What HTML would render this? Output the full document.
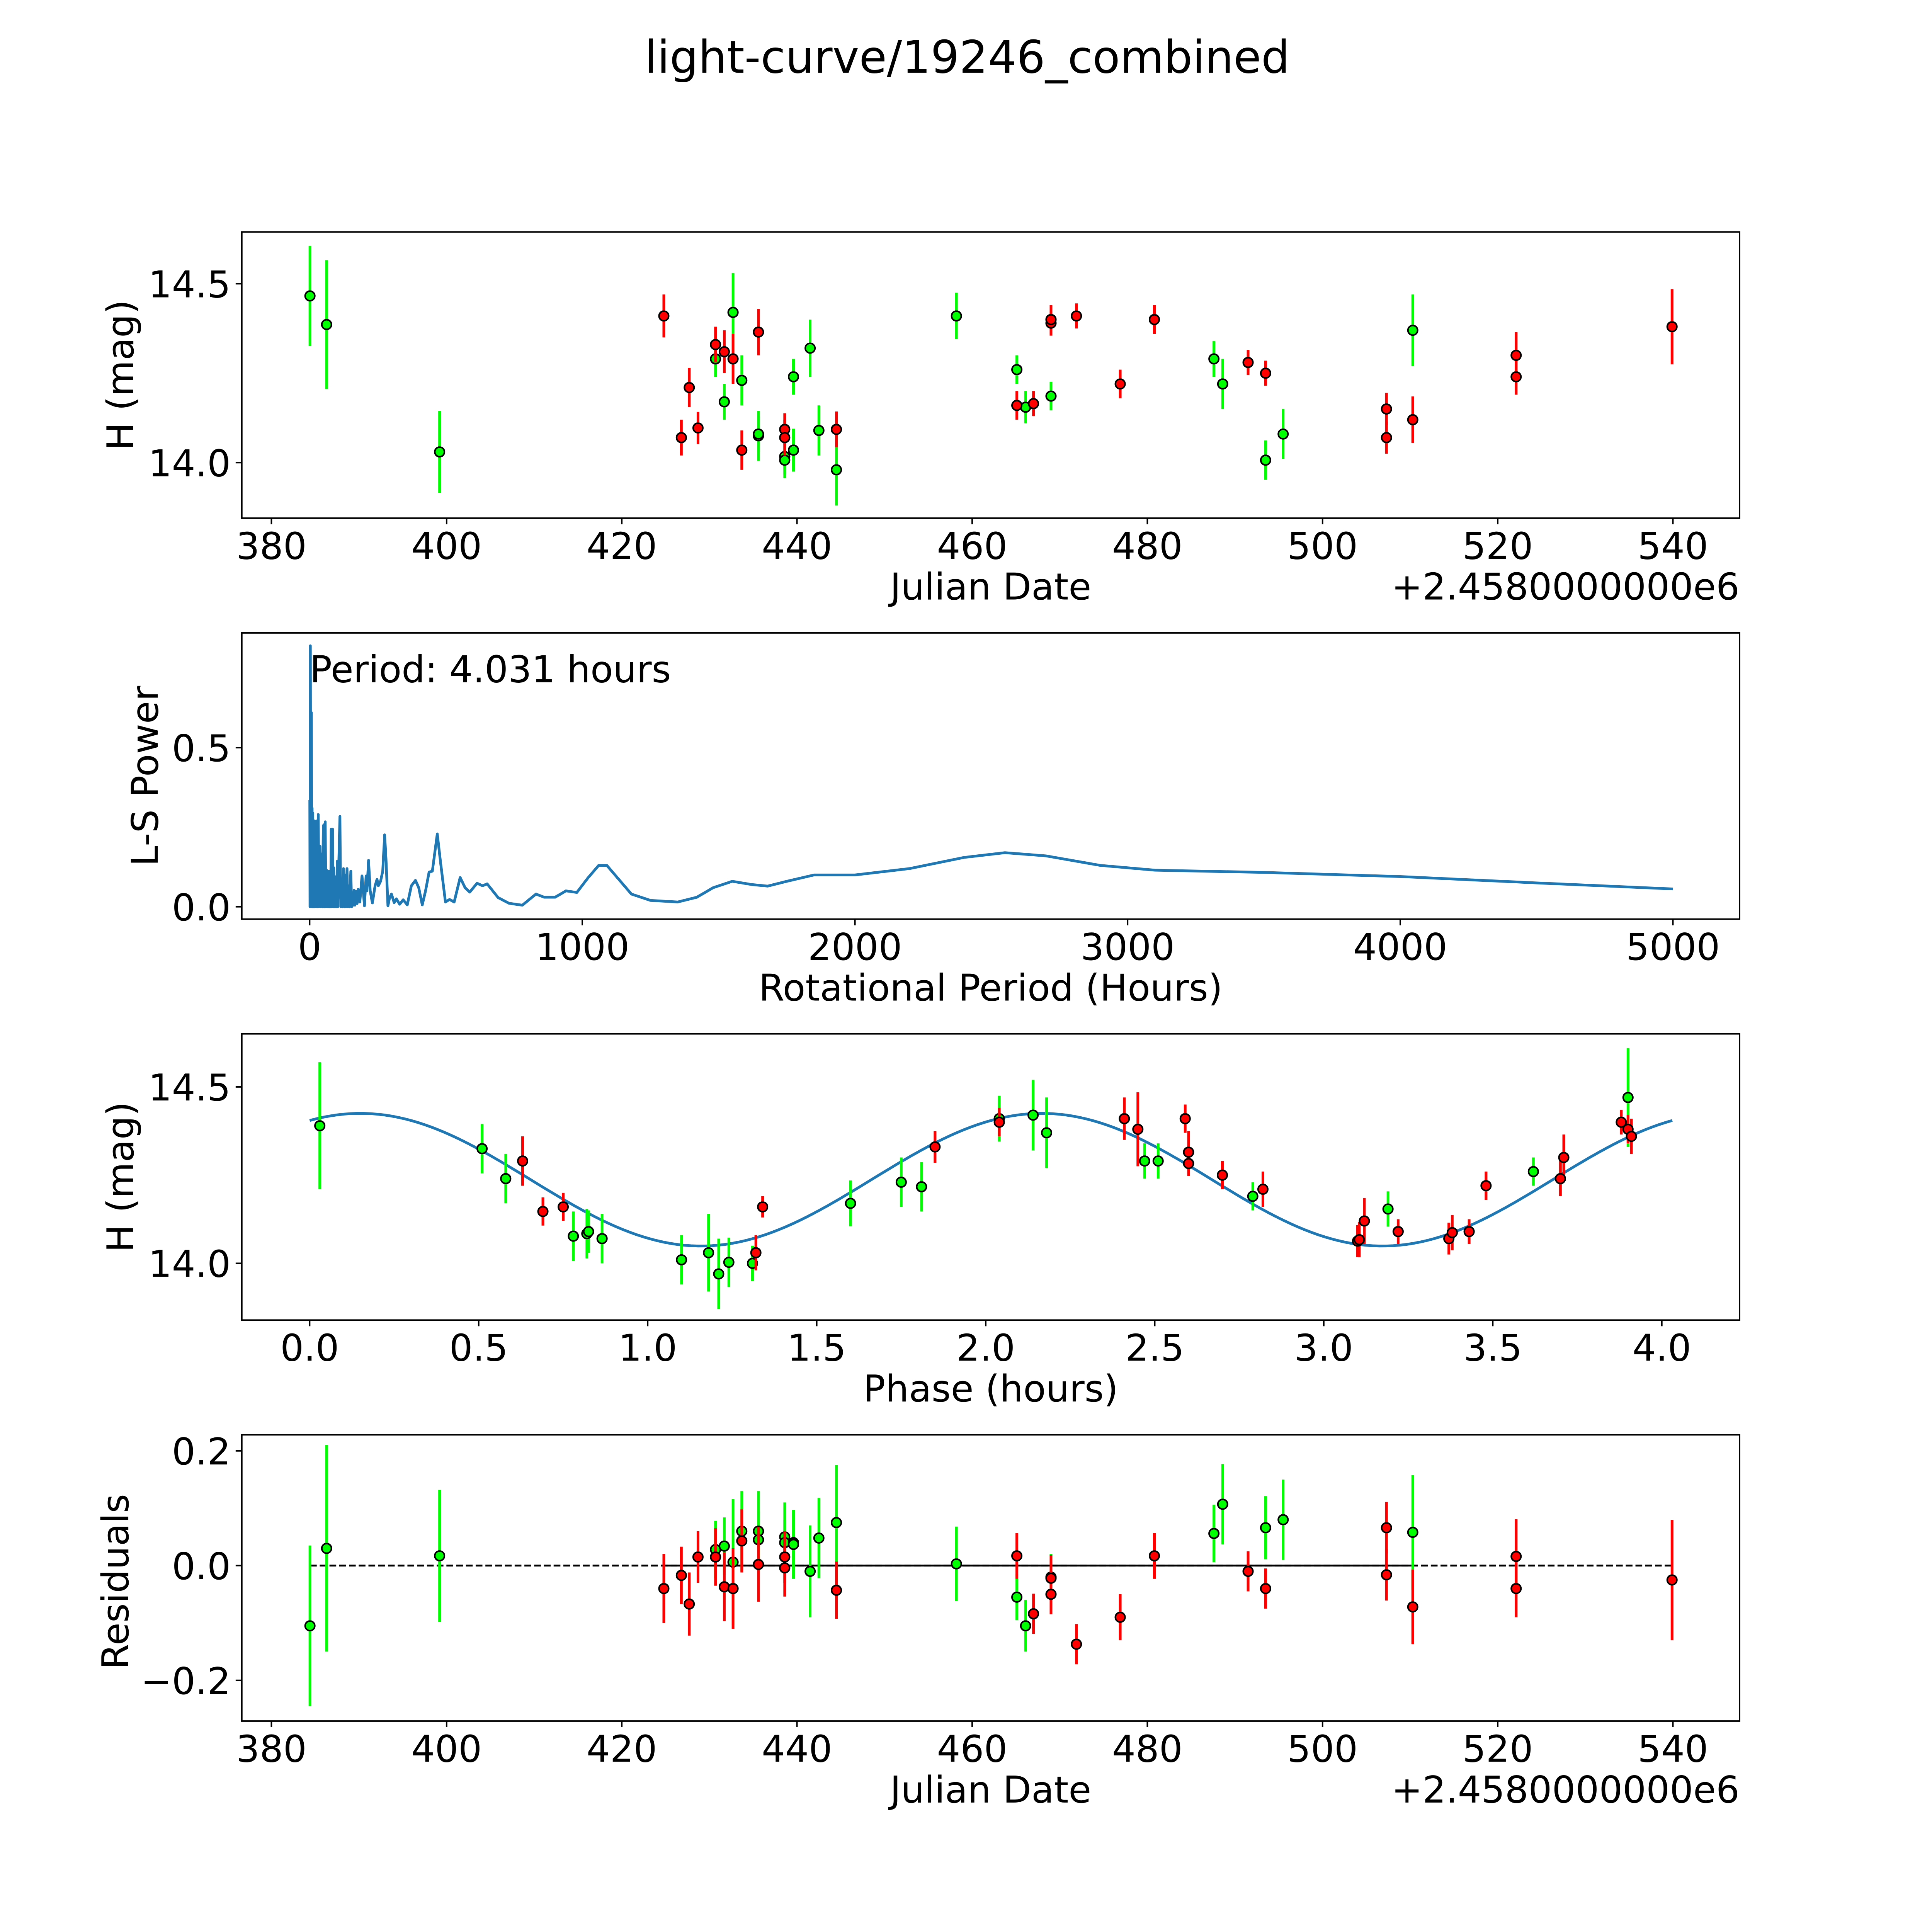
<!DOCTYPE html>
<html><head><meta charset="utf-8">
<style>
html,body{margin:0;padding:0;background:#fff;overflow:hidden;width:100vw;height:100vh;}
svg{display:block;width:100vw;height:100vh;}
text{font-family:"DejaVu Sans","Liberation Sans",sans-serif;fill:#000;}
</style></head>
<body>
<svg id="fig" viewBox="0 0 1566 1566" preserveAspectRatio="xMinYMin meet" xmlns="http://www.w3.org/2000/svg">
<rect x="0" y="0" width="1566" height="1566" fill="#fff"/>
<text x="784" y="59" font-size="36.5" text-anchor="middle">light-curve/19246_combined</text>
<g id="layer"></g>
</svg>
<script>
// ---------- Panel 1 / 4 data (Julian date offset, magnitude, error, residual) ----------
const greenDates=[384.4,386.3,399.2,430.7,431.7,432.7,433.7,435.6,435.6,438.6,438.6,439.6,439.6,441.5,442.5,444.5,458.2,465.1,466.1,469.0,487.6,488.6,493.5,495.5,510.3];
const greenMags=[14.466,14.386,14.03,14.29,14.17,14.42,14.23,14.075,14.08,14.017,14.007,14.24,14.035,14.32,14.09,13.98,14.41,14.26,14.155,14.186,14.29,14.22,14.007,14.08,14.37];
const greenErrs=[0.14,0.18,0.115,0.05,0.05,0.11,0.07,0.07,0.05,0.06,0.04,0.05,0.06,0.08,0.07,0.1,0.065,0.04,0.045,0.04,0.05,0.07,0.055,0.07,0.1];
const greenRes=[-0.105,0.03,0.017,0.028,0.034,0.006,0.06,0.06,0.045,0.05,0.04,0.04,0.037,-0.01,0.048,0.075,0.003,-0.055,-0.105,-0.02,0.056,0.107,0.066,0.08,0.058];
const redDates=[424.8,426.8,427.7,428.7,430.7,431.7,432.7,433.7,435.6,438.6,438.6,444.5,465.1,467.0,469.0,469.0,471.9,476.9,480.8,491.5,493.5,507.3,507.3,510.3,522.1,522.1,539.9];
const redMags=[14.41,14.07,14.21,14.097,14.33,14.31,14.29,14.035,14.365,14.093,14.07,14.093,14.16,14.165,14.39,14.40,14.41,14.22,14.40,14.28,14.25,14.15,14.07,14.12,14.30,14.24,14.38];
const redErrs=[0.06,0.05,0.055,0.045,0.05,0.06,0.07,0.055,0.065,0.045,0.05,0.05,0.04,0.035,0.035,0.04,0.035,0.04,0.04,0.035,0.035,0.045,0.045,0.065,0.065,0.05,0.105];
const redRes=[-0.04,-0.017,-0.067,0.015,0.015,-0.037,-0.04,0.043,0.002,0.015,-0.004,-0.043,0.017,-0.084,-0.05,-0.022,-0.137,-0.09,0.017,-0.01,-0.04,0.066,-0.016,-0.072,0.016,-0.04,-0.025];
// ---------- Panel 3 data (phase in hours) ----------
const greenPhase=[0.03,0.51,0.58,0.78,0.82,0.825,0.865,1.10,1.18,1.21,1.24,1.31,1.60,1.75,1.81,2.04,2.14,2.18,2.47,2.51,2.79,3.19,3.62,3.90];
const greenPhaseMag=[14.39,14.325,14.24,14.077,14.084,14.09,14.07,14.01,14.03,13.97,14.003,14.0,14.17,14.23,14.217,14.41,14.42,14.37,14.29,14.29,14.19,14.154,14.26,14.47];
const greenPhaseErr=[0.18,0.07,0.07,0.07,0.07,0.06,0.07,0.07,0.11,0.1,0.07,0.05,0.065,0.07,0.07,0.065,0.1,0.1,0.05,0.05,0.04,0.05,0.04,0.14];
const redPhase=[0.63,0.69,0.75,1.32,1.34,1.85,2.04,2.41,2.45,2.59,2.60,2.60,2.70,2.82,3.10,3.105,3.12,3.22,3.37,3.38,3.43,3.48,3.70,3.71,3.88,3.90,3.91];
const redPhaseMag=[14.29,14.147,14.16,14.03,14.16,14.33,14.40,14.41,14.38,14.41,14.315,14.283,14.25,14.21,14.063,14.067,14.12,14.09,14.07,14.087,14.09,14.22,14.24,14.30,14.40,14.38,14.36];
const redPhaseErr=[0.07,0.04,0.04,0.05,0.03,0.045,0.04,0.06,0.105,0.04,0.06,0.035,0.04,0.05,0.045,0.05,0.065,0.035,0.045,0.05,0.035,0.04,0.05,0.065,0.035,0.04,0.05];
// model fit parameters (mean mag, amplitude, phase of max, sub-period) and final period
const modelParams=[14.237,0.188,0.15,2.0155];
const bestPeriod=[4.031];
// ---------- Panel 2 data (Lomb-Scargle) ----------
const lsPeriods=[0.5,1.2,2.5,4,6.5,8,9,10.5,11.5,13,15,16.5,18,19.5,21.5,23.5,26.5,29,31.5,34,38,41,44,47,50,52,53,55,57,59.5,62,64,66,68.5,70.5,72.5,74.5,77,79,81.5,84,86,88,90,92,94,97,99,101,103,111,114,117,120,124,127,130,133,137,140,143,146,151,154,157,160,163,166,170,174,178,184,192,201,207,210,216,222,230,240,247,252,260,268,275,280,287,293,300,310,318,330,343,358,373,388,400,413,425,438,450,468,480,498,513,530,552,570,587,614,634,651,691,731,780,830,860,900,940,980,1020,1060,1090,1130,1180,1250,1350,1420,1480,1550,1620,1680,1750,1850,2000,2200,2400,2550,2700,2900,3100,3500,4000,4500,5000];
const lsPower=[0.335,0,0.82,0.05,0.61,0,0.31,0,0.295,0,0.25,0,0.27,0,0.264,0,0.27,0,0.29,0,0.19,0,0.166,0,0.255,0,0.258,0,0.267,0,0.115,0,0.109,0,0.112,0,0.112,0,0.244,0,0.244,0,0.123,0,0.095,0,0.083,0,0.143,0,0.284,0,0.077,0,0.12,0,0.1,0,0.12,0,0.066,0,0.112,0,0.03,0.005,0.052,0.005,0.049,0.01,0.055,0.015,0.097,0.003,0.097,0.05,0.146,0.05,0.012,0.066,0.086,0.066,0.08,0.112,0.226,0.15,0.003,0.028,0.04,0.013,0.025,0.008,0.022,0.006,0.066,0.083,0.06,0.006,0.05,0.109,0.112,0.229,0.14,0.015,0.023,0.015,0.092,0.06,0.046,0.074,0.066,0.072,0.029,0.011,0.005,0.04,0.03,0.03,0.05,0.045,0.09,0.13,0.13,0.09,0.04,0.02,0.015,0.03,0.06,0.08,0.07,0.065,0.08,0.1,0.1,0.12,0.155,0.17,0.16,0.13,0.115,0.108,0.095,0.075,0.056];
// ---------- ticks ----------
const dateTicks=[380,400,420,440,460,480,500,520,540];
const magTicks=[14.0,14.5];
const lsXTicks=[0,1000,2000,3000,4000,5000];
const lsYTicks=[0.0,0.5];
const phaseTicks=[0.0,0.5,1.0,1.5,2.0,2.5,3.0,3.5,4.0];
const resTicks=[-0.2,0.0,0.2];

const NS="http://www.w3.org/2000/svg";
const layer=document.getElementById('layer');
function mk(tag,attrs,parent){const e=document.createElementNS(NS,tag);for(const k in attrs)e.setAttribute(k,attrs[k]);(parent||layer).appendChild(e);return e;}
const FS=30;

// axis functions
const xDate=d=>220+(d-380)*7.1;
const yMag1=m=>375-(m-14)*290;
const xLS=h=>251+h*0.221;
const yLS=p=>735-p*258;
const xPh=p=>251+p*274;
const yMag3=m=>1024-(m-14)*286;
const yRes=r=>1269-r*465;

function frame(name,x0,y0,x1,y1){
  const r=mk('rect',{x:x0,y:y0,width:x1-x0,height:y1-y0,fill:'none',stroke:'#000','stroke-width':1.2});
  
  
}
function xticks(name,ticks,fx,yb,fmt){
  ticks.forEach(t=>{
    const x=fx(t);
    const l=mk('line',{x1:x,x2:x,y1:yb,y2:yb+5,stroke:'#000','stroke-width':1.2});
    
    
    const tx=mk('text',{x:x,y:yb+33,'font-size':FS,'text-anchor':'middle'});
    tx.textContent=fmt(t);
    
    
  });
}
function yticks(name,ticks,fy,xl,fmt){
  ticks.forEach(t=>{
    const y=fy(t);
    const l=mk('line',{x1:xl-5,x2:xl,y1:y,y2:y,stroke:'#000','stroke-width':1.2});
    
    
    const tx=mk('text',{x:xl-9,y:y+11,'font-size':FS,'text-anchor':'end'});
    tx.textContent=fmt(t);
    
    
  });
}
function label(name,txt,x,y,rot,anchor){
  const t=mk('text',{x:x,y:y,'font-size':FS,'text-anchor':anchor||'middle'});
  if(rot)t.setAttribute('transform','rotate(-90 '+x+' '+y+')');
  t.textContent=txt;
  
  
}
function points(name,xs,ys,es,fx,fy,scale,color){
  const g=mk('g',{});
  
  
  xs.forEach((v,i)=>{
    const x=fx(v),y=fy(ys[i]),e=es[i]*scale;
    const l=mk('line',{x1:x,x2:x,y1:y-e,y2:y+e,stroke:color,'stroke-width':2.2},g);
    
    
  });
  xs.forEach((v,i)=>{
    const c=mk('circle',{cx:fx(v),cy:fy(ys[i]),r:3.9,fill:color,stroke:'#000','stroke-width':1.3},g);
    
    
  });
}
const f1=v=>v.toFixed(1);
const neg=v=>(v<0?'\u2212':'')+Math.abs(v).toFixed(1);

// ===== Panel 1 =====
frame('lightcurve',196,188,1410,420);
xticks('lightcurve',dateTicks,xDate,420,String);
yticks('lightcurve',magTicks,yMag1,196,f1);
label('lightcurve-x-axis-title','Julian Date',803,486);
label('lightcurve-offset-text','+2.4580000000e6',1410,486,false,'end');
label('lightcurve-y-axis-title','H (mag)',108,304,true);
points('lightcurve-green-series',greenDates,greenMags,greenErrs,xDate,yMag1,290,'#00ff00');
points('lightcurve-red-series',redDates,redMags,redErrs,xDate,yMag1,290,'#ff0000');

// ===== Panel 2 =====
frame('periodogram',196,513,1410,745);
xticks('periodogram',lsXTicks,xLS,745,String);
yticks('periodogram',lsYTicks,yLS,196,f1);
label('periodogram-x-axis-title','Rotational Period (Hours)',803,811);
label('periodogram-y-axis-title','L-S Power',128,629,true);
{
  let d='';
  lsPeriods.forEach((h,i)=>{d+=(i?'L':'M')+xLS(h).toFixed(2)+' '+yLS(lsPower[i]).toFixed(2);});
  const p=mk('path',{d:d,fill:'none',stroke:'#1f77b4','stroke-width':2.2,'stroke-linejoin':'round'});
  
  
}
label('period-annotation','Period: '+bestPeriod[0].toFixed(3)+' hours',251,553,false,'start');

// ===== Panel 3 =====
frame('phase',196,838,1410,1070);
xticks('phase',phaseTicks,xPh,1070,f1);
yticks('phase',magTicks,yMag3,196,f1);
label('phase-x-axis-title','Phase (hours)',803,1136);
label('phase-y-axis-title','H (mag)',108,954,true);
{
  let d='';const n=200;
  for(let i=0;i<=n;i++){
    const p=bestPeriod[0]*i/n;
    const m=modelParams[0]+modelParams[1]*Math.cos(2*Math.PI*(p-modelParams[2])/modelParams[3]);
    d+=(i?'L':'M')+xPh(p).toFixed(2)+' '+yMag3(m).toFixed(2);
  }
  const c=mk('path',{d:d,fill:'none',stroke:'#1f77b4','stroke-width':2.2});
  
  
}
points('phase-green-series',greenPhase,greenPhaseMag,greenPhaseErr,xPh,yMag3,286,'#00ff00');
points('phase-red-series',redPhase,redPhaseMag,redPhaseErr,xPh,yMag3,286,'#ff0000');

// ===== Panel 4 =====
frame('residuals',196,1163,1410,1395);
xticks('residuals',dateTicks,xDate,1395,String);
yticks('residuals',resTicks,yRes,196,neg);
label('residuals-x-axis-title','Julian Date',803,1461);
label('residuals-offset-text','+2.4580000000e6',1410,1461,false,'end');
label('residuals-y-axis-title','Residuals',104,1282,true);
{
  const allD=greenDates.concat(redDates);
  const dl=mk('line',{x1:xDate(Math.min(...allD)),x2:xDate(Math.max(...allD)),y1:yRes(0),y2:yRes(0),stroke:'#000','stroke-width':1.5,'stroke-dasharray':'5.5 2.4'});
  
  
  const sl=mk('line',{x1:xDate(Math.min(...redDates)),x2:xDate(Math.max(...greenDates)),y1:yRes(0),y2:yRes(0),stroke:'#000','stroke-width':1.5});
  
  
}
points('residuals-green-series',greenDates,greenRes,greenErrs,xDate,yRes,465,'#00ff00');
points('residuals-red-series',redDates,redRes,redErrs,xDate,yRes,465,'#ff0000');
</script>
</body></html>
